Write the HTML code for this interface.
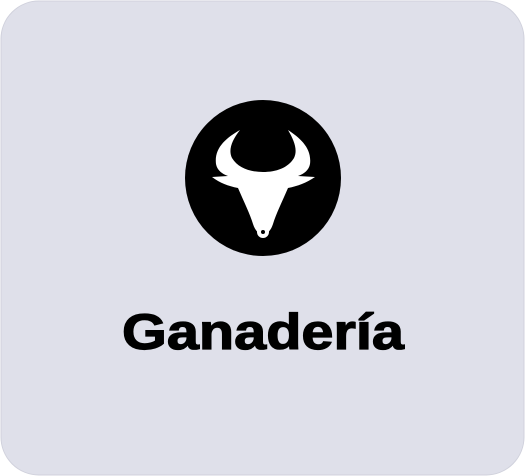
<!DOCTYPE html>
<html><head><meta charset="utf-8"><style>
html,body{margin:0;padding:0;background:#fff;width:525px;height:476px;overflow:hidden}
</style></head><body>
<svg width="525" height="476" viewBox="0 0 525 476" xmlns="http://www.w3.org/2000/svg">
  <rect x="1" y="1" width="523" height="474" rx="38" fill="#dfe0ea" stroke="#d0d1dc" stroke-width="1"/>
  <g>
    <circle cx="263" cy="178" r="78" fill="#000"/>
    <path fill="#fff" d="
      M240,130 C226,138 214,148 216,164 C217,170 222,174 228,176
      L212,177 C220,183 228,186 238,188
      C244,202 250,214 253,224 C255,230 258,234 263,234 C268,234 271,230 273,224
      C276,214 282,202 288,188 C298,186 306,183 315,177 L298,176
      C304,174 309,170 310,164 C312,148 300,138 288,130
      C294,140 298,150 294,158 C288,168 276,172 263,172 C250,172 238,168 232,158
      C228,150 232,140 240,130 Z"/>
    <circle cx="263" cy="232" r="6" fill="#fff"/>
    <circle cx="263" cy="232" r="2" fill="#000"/>
  </g>
  <text x="263" y="349" text-anchor="middle" textLength="282" lengthAdjust="spacingAndGlyphs" font-family="'Liberation Sans', sans-serif" font-weight="bold" font-size="50" stroke="#000" stroke-width="1.2" fill="#000">Ganadería</text>
</svg>
</body></html>
